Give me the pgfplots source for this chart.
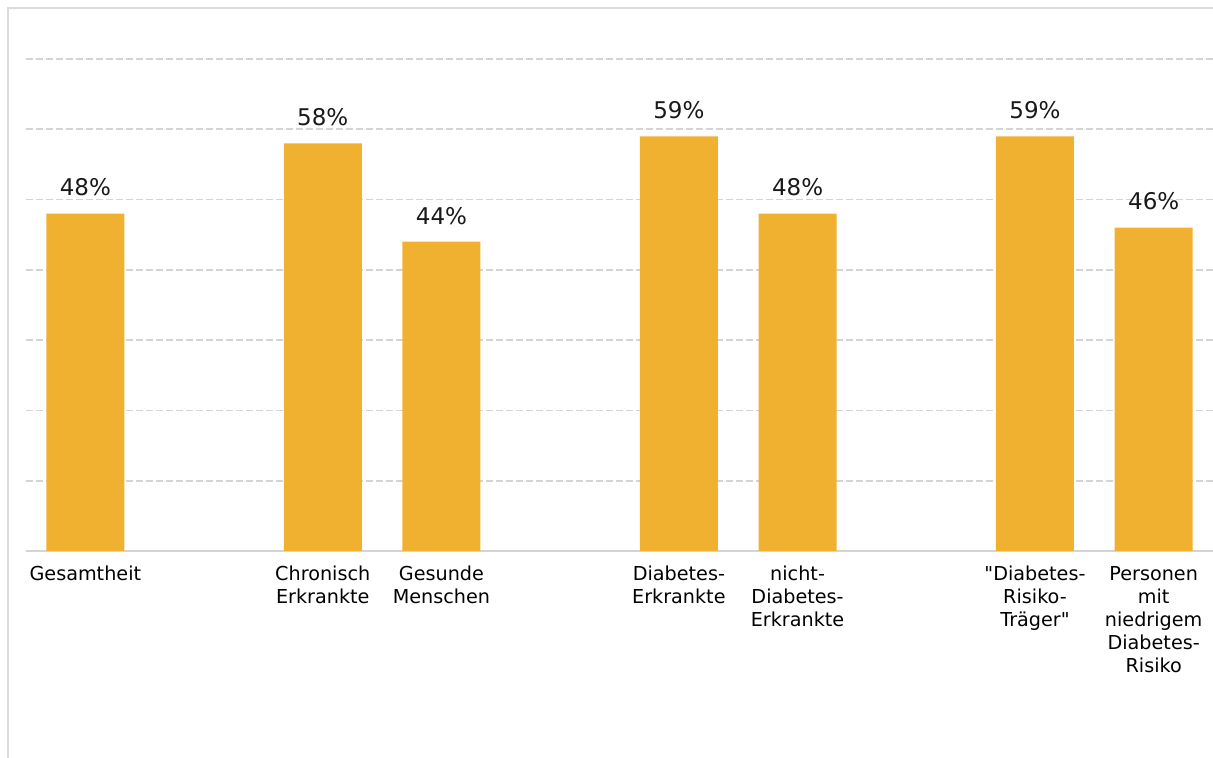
\documentclass[border=0pt]{standalone}
\usepackage{fontspec}
\setmainfont{DejaVu Sans}[Ligatures=TeXOff]
\usepackage{pgfplots}
\pgfplotsset{compat=1.18}
\definecolor{barc}{RGB}{240,177,49}
\definecolor{gridc}{RGB}{212,212,212}
\definecolor{framec}{RGB}{220,220,220}
\begin{document}
\begin{tikzpicture}
\useasboundingbox (0,0) rectangle (606.5pt,379pt);
\draw[framec, line width=1pt] (4pt,-2pt) -- (4pt,375pt) -- (610pt,375pt);
\begin{axis}[
  at={(13pt,103.5pt)}, anchor=south west,
  scale only axis, width=593.5pt, height=246pt,
  xmin=-0.5, xmax=9.5, ymin=0, ymax=70,
  axis x line=bottom, axis y line=left,
  x axis line style={draw=gridc, line width=1pt, -},
  y axis line style={draw=none},
  ybar, bar width=39pt,
  ytick={10,20,...,70}, yticklabels={},
  ymajorgrids, major grid style={gridc, line width=0.8pt, dash pattern=on 3.5pt off 1.5pt},
  xtick={0,2,3,5,6,8,9},
  xticklabels={Gesamtheit, Chronisch\\Erkrankte, Gesunde\\Menschen, Diabetes-\\Erkrankte, nicht-\\Diabetes-\\Erkrankte, "Diabetes-\\Risiko-\\Träger", Personen\\mit\\niedrigem\\Diabetes-\\Risiko},
  xticklabel style={font=\fontsize{9.6}{11.5}\selectfont, align=center, anchor=north, yshift=-4pt},
  major tick length=0pt,
  /pgf/number format/assume math mode=true,
  nodes near coords={\pgfmathprintnumber{\pgfplotspointmeta}\%},
  nodes near coords style={font=\fontsize{11.5}{13}\selectfont, anchor=south, inner sep=0pt, yshift=8.5pt, text=black!90},
  clip=false,
]
\addplot[fill=barc, draw=none] coordinates {(0,48) (2,58) (3,44) (5,59) (6,48) (8,59) (9,46)};
\end{axis}
\end{tikzpicture}
\end{document}
